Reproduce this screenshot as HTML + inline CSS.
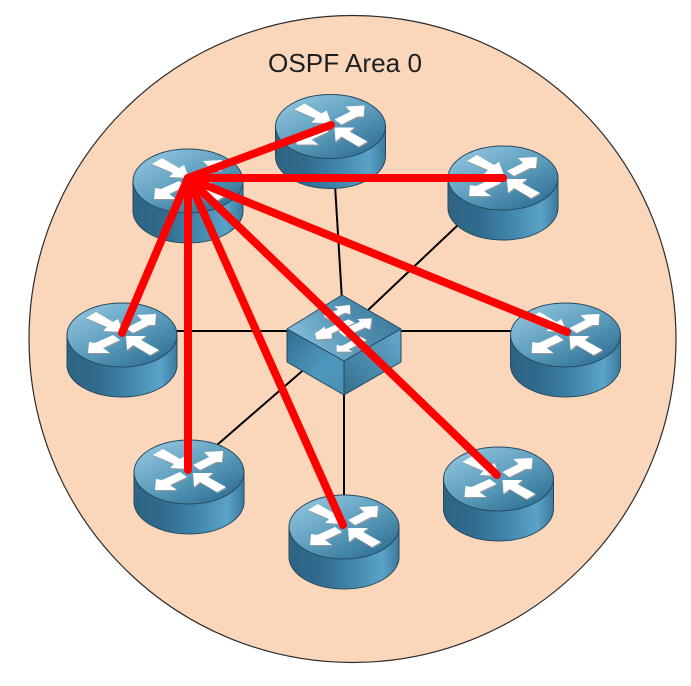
<!DOCTYPE html>
<html>
<head>
<meta charset="utf-8">
<style>
html,body{margin:0;padding:0;background:#fff;width:691px;height:686px;overflow:hidden}
svg{display:block;filter:blur(.35px)}
</style>
</head>
<body>
<svg width="691" height="686" viewBox="0 0 691 686" xmlns="http://www.w3.org/2000/svg">
<defs>
<linearGradient id="side" x1="0" x2="1" y1="0" y2="0">
<stop offset="0" stop-color="#2f6482"/>
<stop offset=".25" stop-color="#2f6a8c"/>
<stop offset=".55" stop-color="#3f84a9"/>
<stop offset=".85" stop-color="#5ba3c8"/>
<stop offset="1" stop-color="#3a7a9c"/>
</linearGradient>
<linearGradient id="top" x1="0.1" x2="0.85" y1="0.1" y2="0.95">
<stop offset="0" stop-color="#8fc3dc"/>
<stop offset=".5" stop-color="#5d9dbd"/>
<stop offset="1" stop-color="#2f6f92"/>
</linearGradient>
<linearGradient id="swtop" x1="0" x2="1" y1="0.6" y2="0.2">
<stop offset="0" stop-color="#86bfdb"/>
<stop offset=".6" stop-color="#4d8cae"/>
<stop offset="1" stop-color="#3a7899"/>
</linearGradient>
<linearGradient id="swl" x1="0" x2="1" y1="0" y2="1">
<stop offset="0" stop-color="#2f6d90"/>
<stop offset=".6" stop-color="#4f97bd"/>
<stop offset="1" stop-color="#4a90b5"/>
</linearGradient>
<linearGradient id="swr" x1="0" x2="1" y1="1" y2="0">
<stop offset="0" stop-color="#33708f"/>
<stop offset="1" stop-color="#64a9cd"/>
</linearGradient>
<g id="arrows">
<polygon points="-36,-17 -26,-23 -9,-13 -4,-16 1,-3 -19,-4 -15,-8"/>
<polygon points="34,-21 15,-20 20,-15 4,-7 11,-2 27,-10 33,-10"/>
<polygon points="-34,18 -33,7 -27,8 -9,0 -2,5 -19,13 -12,18"/>
<polygon points="4,1 24,1 19,5 37,15 28,20 11,10 5,15"/>
</g>
<g id="swarrows">
<polygon points="240,45 192,50 205,58 160,78 180,90 225,68 240,72"/>
<polygon points="305,85 262,87 270,95 205,125 225,140 285,112 300,118"/>
<polygon points="135,130 165,110 165,118 235,88 255,98 185,130 185,145 140,148"/>
<polygon points="200,185 200,165 215,168 270,140 290,150 235,178 248,185"/>
</g>
<g id="router">
<path d="M-55,0 V30 A55,32 0 0 0 55,30 V0 Z" fill="url(#side)" stroke="#24495f" stroke-width="1"/>
<ellipse cx="0" cy="0" rx="55" ry="32" fill="url(#top)" stroke="#24495f" stroke-width="1"/>
<use href="#arrows" fill="#8f9aa0" transform="translate(.8,1.2)"/>
<use href="#arrows" fill="#ffffff"/>
</g>
</defs>

<rect width="691" height="686" fill="#fff"/>
<circle cx="352.500" cy="339" r="323.500" fill="#fad6bb" stroke="#2c2c2c" stroke-width="1.200"/>
<text x="268" y="72" font-family="'Liberation Sans',sans-serif" font-size="26" fill="#1f1f1f" textLength="154" lengthAdjust="spacingAndGlyphs">OSPF Area 0</text>

<g stroke="#000" stroke-width="2" fill="none">
<line x1="335" y1="185" x2="342" y2="300"/>
<line x1="459" y1="224" x2="366" y2="312"/>
<line x1="175" y1="331" x2="290" y2="331"/>
<line x1="398" y1="331" x2="512" y2="331"/>
<line x1="217" y1="445" x2="308" y2="366"/>
<line x1="344" y1="392" x2="344" y2="497"/>
</g>

<use href="#router" x="330.500" y="126.500"/>
<use href="#router" x="188" y="181"/>
<use href="#router" x="503" y="178"/>
<use href="#router" x="122" y="335"/>
<use href="#router" x="565.500" y="335"/>
<use href="#router" x="189" y="472"/>
<use href="#router" x="344" y="527"/>
<use href="#router" x="498.500" y="479"/>

<g stroke="#24495f" stroke-width="1" stroke-linejoin="round">
<polygon points="287,329 342,295 401,329 344,361" fill="url(#swtop)"/>
<polygon points="287,329 344,361 344,395 287,362" fill="url(#swl)"/>
<polygon points="344,361 401,329 401,362 344,395" fill="url(#swr)"/>
</g>
<g transform="translate(270,290) scale(.3333)">
<use href="#swarrows" fill="#8f9aa0" transform="translate(3,4)"/>
<use href="#swarrows" fill="#ffffff"/>
</g>

<g stroke="#ff0000" stroke-width="8" stroke-linecap="round" fill="none">
<line x1="188" y1="178" x2="331" y2="125"/>
<line x1="188" y1="178" x2="503" y2="178"/>
<line x1="188" y1="178" x2="122" y2="333"/>
<line x1="188" y1="178" x2="188" y2="470"/>
<line x1="188" y1="178" x2="343" y2="525"/>
<line x1="188" y1="178" x2="497" y2="475"/>
<line x1="188" y1="178" x2="567" y2="332"/>
</g>
</svg>
</body>
</html>
